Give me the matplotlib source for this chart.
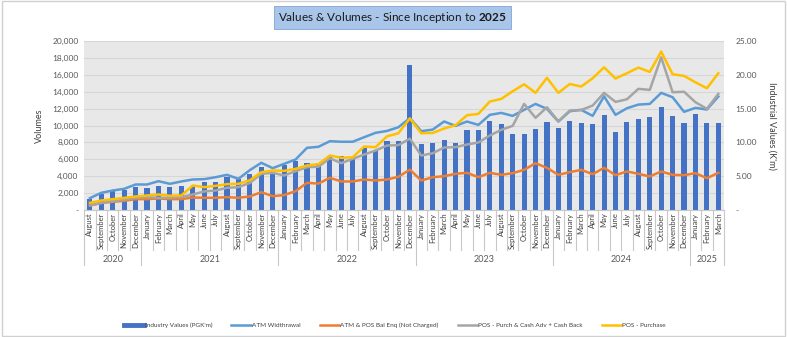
import matplotlib
matplotlib.use("Agg")
import matplotlib.pyplot as plt
import matplotlib.transforms as mtransforms
from matplotlib.lines import Line2D
from matplotlib.patches import Rectangle

plt.rcParams['font.family'] = ['Lato', 'DejaVu Sans']
plt.rcParams['mathtext.fontset'] = 'custom'
plt.rcParams['mathtext.bf'] = 'Lato:bold'

# ---- data ----
years = ["2020", "2021", "2022", "2023", "2024", "2025"]
months_per_year = [5, 12, 12, 12, 12, 3]
month_names = ["January", "February", "March", "April", "May", "June", "July",
               "August", "September", "October", "November", "December"]
months = (month_names[7:] + month_names * 4 + month_names[:3])

# bars: Industry Values (PGK'm), left axis
industry_values = [1320, 1920, 2300, 2390, 2700,
                   2580, 2820, 2660, 2780, 2860, 3370, 3370, 3960, 3650, 4200, 5070, 4470,
                   5270, 5820, 5580, 5580, 6450, 6450, 5980, 7280, 7120, 8140, 8140, 17220,
                   7790, 7900, 8260, 7950, 9440, 9480, 10590, 10150, 9010, 8970, 9640, 10430,
                   9760, 10590, 10270, 10190, 11220, 9200, 10470, 10740, 11060, 12160, 11180, 10310,
                   11330, 10310, 10310]

# lines: right axis (K'm)
atm_withdrawal = [1.75, 2.54, 2.88, 3.13, 3.77,
                  3.77, 4.26, 3.87, 4.22, 4.51, 4.56, 4.85, 5.2, 4.61, 5.9, 6.98, 6.19,
                  6.83, 7.47, 9.2, 9.35, 10.18, 10.1, 10.1, 10.77, 11.42, 11.7, 12.25, 13.6,
                  11.66, 11.9, 13.1, 12.45, 13.09, 12.6, 14.08, 14.37, 13.93, 14.82, 15.7, 14.97,
                  13.09, 14.62, 14.82, 13.93, 16.83, 14.08, 15.06, 15.6, 15.7, 17.34, 16.69, 14.53,
                  15.12, 14.87, 16.79]

bal_enq = [0.65, 1.05, 1.2, 1.35, 1.6,
           1.6, 1.7, 1.6, 1.6, 1.85, 1.8, 1.8, 1.9, 1.8, 2.0, 2.63, 2.04,
           2.2, 2.78, 4.02, 3.9, 4.76, 4.22, 4.22, 4.51, 4.36, 4.51, 4.91, 5.97,
           4.36, 4.85, 5.0, 5.35, 5.5, 4.85, 5.5, 5.2, 5.45, 5.94, 6.92, 6.24,
           5.2, 5.6, 5.94, 5.3, 6.24, 5.15, 5.7, 5.35, 4.96, 5.7, 5.2, 5.15,
           5.45, 4.7, 5.5]

pos_cash_adv = [0.67, 1.03, 1.3, 1.5, 1.8,
                1.9, 1.8, 1.8, 1.9, 2.29, 2.74, 2.88, 3.28, 3.38, 4.0, 5.35, 5.5,
                5.1, 5.74, 6.33, 6.4, 7.66, 6.92, 7.57, 8.2, 8.8, 9.54, 9.6, 10.55,
                8.06, 8.4, 9.25, 9.3, 9.69, 9.99, 11.02, 11.86, 12.45, 15.7, 13.64, 15.2,
                13.14, 14.72, 14.8, 15.46, 17.34, 16.0, 16.39, 17.93, 17.78, 22.6, 17.43, 17.5,
                15.95, 14.97, 17.19]

pos_purchase = [1.06, 1.4, 1.6, 1.79, 2.0,
                2.14, 2.29, 2.1, 2.14, 3.62, 3.38, 3.57, 3.82, 3.87, 4.4, 5.6, 5.84,
                5.79, 6.09, 6.58, 6.78, 8.06, 7.72, 7.8, 9.39, 9.3, 10.9, 11.36, 13.55,
                11.36, 11.4, 12.06, 12.55, 14.02, 14.23, 16.05, 16.45, 17.57, 18.61, 17.34, 19.56,
                17.34, 18.65, 18.27, 19.5, 21.12, 19.46, 20.24, 21.08, 20.44, 23.45, 20.09, 19.85,
                18.9, 18.02, 20.24]

left_ticks = [0, 2000, 4000, 6000, 8000, 10000, 12000, 14000, 16000, 18000, 20000]
right_ticks = [0, 5, 10, 15, 20, 25]

# ---- figure ----
fig = plt.figure(figsize=(7.87, 3.37), dpi=100)
fig.patches.append(Rectangle((0.002, 0.004), 0.996, 0.992, transform=fig.transFigure,
                             fill=False, edgecolor='#d0d0d0', linewidth=1))

ax = fig.add_axes([0.107, 0.377, 0.813, 0.501])
ax.set_facecolor('#e8e8e8')
x = list(range(len(months)))
ax.bar(x, industry_values, width=0.45, color='#4472C4', zorder=2)
ax.set_xlim(-0.5, len(months) - 0.5)
ax.set_ylim(0, 20000)
ax.set_yticks(left_ticks)
ax.set_yticklabels(["-"] + [f"{v:,}" for v in left_ticks[1:]])
ax.grid(axis='y', color='#d6d6d6', linewidth=0.8, zorder=0)
ax.set_axisbelow(True)
for s in ['top', 'left', 'right']:
    ax.spines[s].set_visible(False)
ax.spines['bottom'].set_color('#c8c8c8')
ax.tick_params(axis='y', length=0, labelsize=6, labelcolor='#595959', pad=4)
ax.set_xticks(x)
ax.set_xticklabels(months, rotation=90, fontsize=5.5, color='#404040')
ax.tick_params(axis='x', length=0, pad=2)
ax.set_ylabel("Volumes", fontsize=6.5, color='#404040', labelpad=6)

ax2 = ax.twinx()
ax2.plot(x, atm_withdrawal, color='#5B9BD5', linewidth=1.8, zorder=3)
ax2.plot(x, bal_enq, color='#ED7D31', linewidth=1.8, zorder=3)
ax2.plot(x, pos_cash_adv, color='#A5A5A5', linewidth=1.8, zorder=3)
ax2.plot(x, pos_purchase, color='#FFC000', linewidth=1.8, zorder=4)
ax2.set_ylim(0, 25)
ax2.set_yticks(right_ticks)
ax2.set_yticklabels(["-"] + [f"{v:.2f}" for v in right_ticks[1:]])
ax2.tick_params(axis='y', length=0, labelsize=6, labelcolor='#595959', pad=8)
for s in ['top', 'left', 'right', 'bottom']:
    ax2.spines[s].set_visible(False)
ax2.set_ylabel("Industrial Values (K'm)", fontsize=6.5, color='#404040',
               rotation=270, labelpad=14)

# multi-level category axis: month separators and year groups
trans = mtransforms.blended_transform_factory(ax.transData, ax.transAxes)
year_edges = [0]
for n in months_per_year:
    year_edges.append(year_edges[-1] + n)
for i in range(len(months) + 1):
    depth = -0.325 if i in year_edges else -0.237
    ax.plot([i - 0.5, i - 0.5], [0, depth], transform=trans, color='#c8c8c8',
            linewidth=0.8, clip_on=False)
for k, yr in enumerate(years):
    mid = (year_edges[k] + year_edges[k + 1]) / 2 - 0.5
    ax.text(mid, -0.296, yr, transform=trans, ha='center', va='center',
            fontsize=6.5, color='#595959')

# title box
fig.text(0.4985, 0.948, "Values & Volumes - Since Inception to $\\bf{2025}$",
         ha='center', va='center', fontsize=8.5, color='#1a1a1a',
         bbox=dict(boxstyle='square,pad=0.35', facecolor='#a9c6ea',
                   edgecolor='#7fa6d6', linewidth=0.6))

# legend
handles = [Line2D([], [], color='#4472C4', linewidth=3.5),
           Line2D([], [], color='#5B9BD5', linewidth=1.8),
           Line2D([], [], color='#ED7D31', linewidth=1.8),
           Line2D([], [], color='#A5A5A5', linewidth=1.8),
           Line2D([], [], color='#FFC000', linewidth=1.8)]
labels = ["Industry Values (PGK'm)", "ATM Widthrawal", "ATM & POS Bal Enq (Not Charged)",
          "POS - Purch & Cash Adv + Cash Back", "POS - Purchase"]
fig.legend(handles, labels, loc='center', bbox_to_anchor=(0.502, 0.035), ncol=5,
           frameon=False, fontsize=4.6, handlelength=3.0, handletextpad=0.2,
           columnspacing=3.0, labelcolor='#404040')

fig.savefig("out.png", dpi=100)
